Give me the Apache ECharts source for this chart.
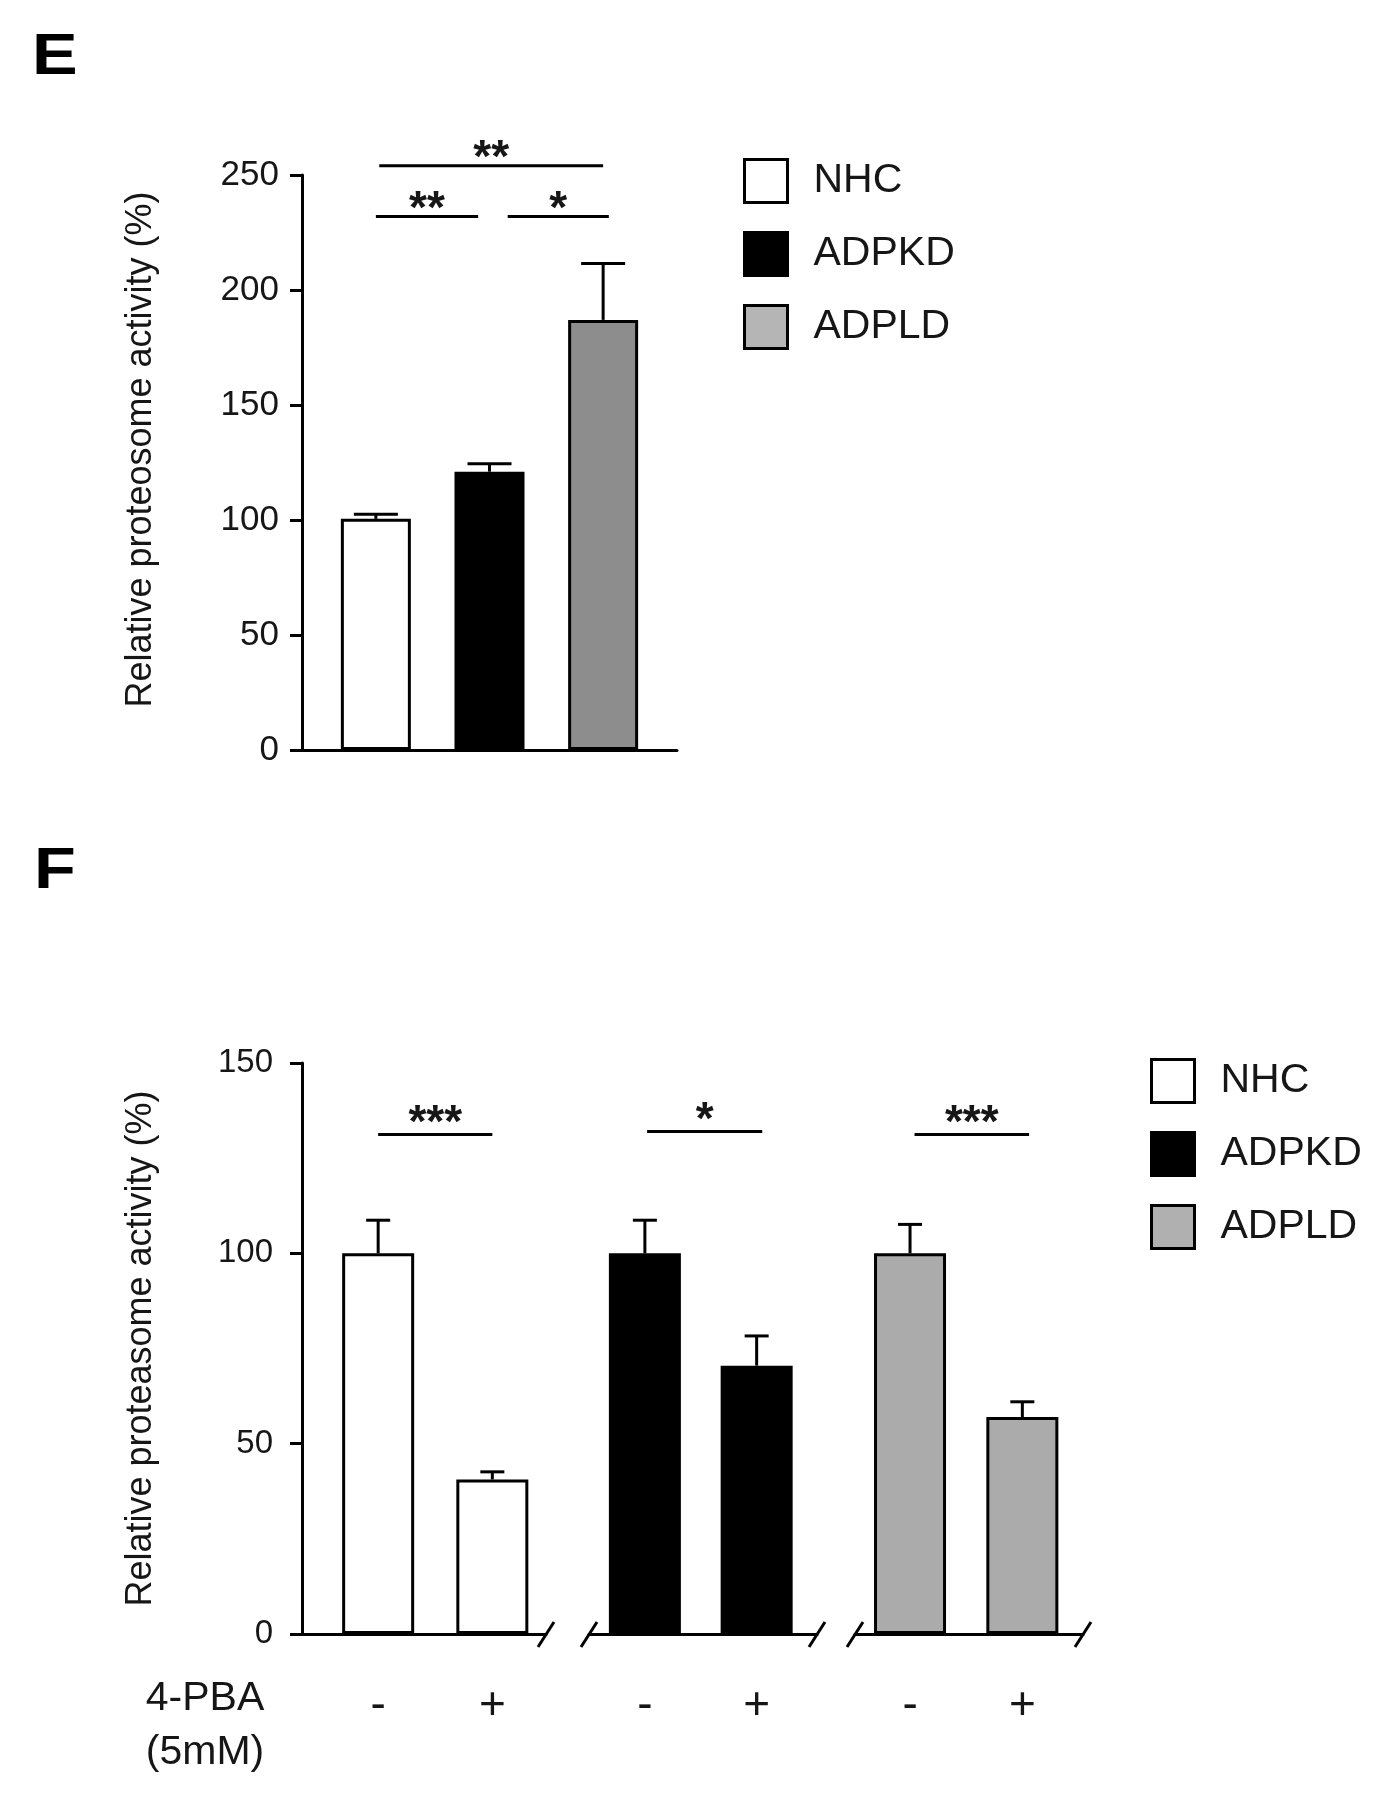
<!DOCTYPE html>
<html>
<head>
<meta charset="utf-8">
<script src="https://cdn.jsdelivr.net/npm/echarts@6/dist/echarts.min.js"></script>
<style>
  html, body { margin: 0; padding: 0; background: #fff; }
  #chart { width: 1392px; height: 1800px; }
</style>
</head>
<body>
<div id="chart"></div>
<script>
const groups = ['NHC', 'ADPKD', 'ADPLD'];

// panel E
const valuesE = [100.5, 121, 187];
const errorsE = [2, 3.5, 24.5];
const barColorsE = ['#ffffff', '#000000', '#8d8d8d'];
const legendColorsE = ['#ffffff', '#000000', '#b5b5b5'];
const sigE = [[0.03, 2, 254], [0, 0.9, 232], [1.16, 2.05, 232]];
const sigTextE = ['**', '**', '*'];

// panel F
const pbaLabels = ['-', '+'];
const nhcF = [100, 40.6];
const adpkdF = [100, 70.5];
const adpldF = [100, 57];
const nhcErrF = [8.7, 2];
const adpkdErrF = [8.7, 7.8];
const adpldErrF = [7.6, 4];
const barColorsF = ['#ffffff', '#000000', '#ababab'];
const legendColorsF = ['#ffffff', '#000000', '#b0b0b0'];
const sigF = [[0, 1, 131.2], [0.02, 1.05, 132], [0.04, 1.06, 131.2]];
const sigTextF = ['***', '*', '***'];

const FONT = '"Liberation Sans", Arial, Helvetica, sans-serif';
const INK = '#161616';
const LW = 3;

let chart = echarts.init(document.getElementById('chart'));

function errorRender(halfCap) {
    return function (params, api) {
        const x = api.value(0), v = api.value(1), e = api.value(2);
        const base = api.coord([x, v]);
        const top = api.coord([x, v + e]);
        const style = { stroke: '#000', lineWidth: LW };
        return {
            type: 'group',
            children: [
                { type: 'line', shape: { x1: base[0], y1: base[1], x2: top[0], y2: top[1] }, style: style },
                { type: 'line', shape: { x1: top[0] - halfCap, y1: top[1], x2: top[0] + halfCap, y2: top[1] }, style: style }
            ]
        };
    };
}

function sigRender(texts, lift) {
    return function (params, api) {
        const a = api.coord([api.value(0), api.value(2)]);
        const b = api.coord([api.value(1), api.value(2)]);
        return {
            type: 'group',
            children: [
                { type: 'line', shape: { x1: a[0], y1: a[1], x2: b[0], y2: b[1] }, style: { stroke: '#000', lineWidth: LW } },
                {
                    type: 'text',
                    style: {
                        text: texts[params.dataIndex], x: (a[0] + b[0]) / 2, y: a[1] - lift,
                        align: 'center', verticalAlign: 'middle',
                        font: 'bold 46px ' + FONT, fill: INK
                    }
                }
            ]
        };
    };
}

function yAxisBase(gridIndex, max, nameText, show) {
    return {
        type: 'value', gridIndex: gridIndex, min: 0, max: max, interval: 50,
        show: show,
        name: nameText, nameLocation: 'middle', nameGap: 143,
        nameTextStyle: { fontFamily: FONT, fontSize: 36, color: INK },
        axisLine: { show: true, onZero: false, lineStyle: { color: '#000', width: LW } },
        axisTick: { show: true, length: 12, lineStyle: { color: '#000', width: LW } },
        axisLabel: { fontFamily: FONT, color: INK },
        splitLine: { show: false }
    };
}

function xAxisSeg(gridIndex, min, max, labels) {
    return {
        type: 'value', gridIndex: gridIndex, min: min, max: max,
        axisLine: { show: true, onZero: false, lineStyle: { color: '#000', width: LW } },
        axisTick: { show: false },
        axisLabel: labels ? {
            customValues: [0, 1],
            formatter: function (v) { return pbaLabels[Math.round(v)]; },
            fontFamily: FONT, fontSize: 46, color: INK, margin: 49
        } : { show: false },
        splitLine: { show: false }
    };
}

const yE = yAxisBase(0, 250, 'Relative proteosome activity (%)', true);
yE.axisLabel.fontSize = 35;
yE.axisLabel.margin = 23;
yE.nameTextStyle.padding = [0, 0, 0, 26];

const yF = yAxisBase(1, 150, 'Relative proteasome activity (%)', true);
yF.axisLabel.fontSize = 33;
yF.axisLabel.margin = 29;

const segF = [
    { data: nhcF, err: nhcErrF },
    { data: adpkdF, err: adpkdErrF },
    { data: adpldF, err: adpldErrF }
];

const series = [];
groups.forEach(function (g, i) {
    series.push({
        name: g, type: 'bar', xAxisIndex: 0, yAxisIndex: 0,
        barWidth: 70, barGap: '-100%',
        itemStyle: { color: barColorsE[i], borderColor: '#000', borderWidth: LW },
        data: [[i, valuesE[i]]], z: 2
    });
});
series.push({
    type: 'custom', xAxisIndex: 0, yAxisIndex: 0, z: 3,
    renderItem: errorRender(22),
    data: valuesE.map(function (v, i) { return [i, v, errorsE[i]]; })
});
series.push({
    type: 'custom', xAxisIndex: 0, yAxisIndex: 0, z: 3,
    renderItem: sigRender(sigTextE, 6),
    data: sigE
});

segF.forEach(function (s, i) {
    series.push({
        name: groups[i], type: 'bar', xAxisIndex: i + 1, yAxisIndex: i + 1,
        barWidth: 72,
        itemStyle: { color: barColorsF[i], borderColor: '#000', borderWidth: LW },
        data: s.data.map(function (v, j) { return [j, v]; }), z: 2
    });
    series.push({
        type: 'custom', xAxisIndex: i + 1, yAxisIndex: i + 1, z: 3,
        renderItem: errorRender(12),
        data: s.data.map(function (v, j) { return [j, v, s.err[j]]; })
    });
    series.push({
        type: 'custom', xAxisIndex: i + 1, yAxisIndex: i + 1, z: 3,
        renderItem: sigRender([sigTextF[i]], 10),
        data: [sigF[i]]
    });
});

function legendFor(left, top, colors) {
    return {
        orient: 'vertical', left: left, top: top, padding: 0,
        itemWidth: 43, itemHeight: 43, itemGap: 27, icon: 'rect',
        selectedMode: false,
        textStyle: { fontFamily: FONT, fontSize: 41, color: INK, padding: [0, 0, 0, 21] },
        data: groups.map(function (g, i) {
            return { name: g, itemStyle: { color: colors[i], borderColor: '#000', borderWidth: LW } };
        })
    };
}

const option = {
    backgroundColor: '#fff',
    animation: false,
    grid: [
        { left: 302, top: 175, width: 375, height: 575 },
        { left: 302, top: 1063, width: 244, height: 571 },
        { left: 589, top: 1063, width: 228, height: 571 },
        { left: 855, top: 1063, width: 228, height: 571 }
    ],
    xAxis: [
        xAxisSeg(0, -0.65, 2.65, false),
        xAxisSeg(1, -0.667, 1.47, true),
        xAxisSeg(2, -0.5, 1.54, true),
        xAxisSeg(3, -0.49, 1.54, true)
    ],
    yAxis: [
        yE,
        yF,
        yAxisBase(2, 150, '', false),
        yAxisBase(3, 150, '', false)
    ],
    legend: [
        legendFor(743, 158, legendColorsE),
        legendFor(1150, 1058, legendColorsF)
    ],
    series: series
};

chart.setOption(option);

// panel letters, treatment label and axis break marks
const graphics = [
    { type: 'text', left: 32, top: 30, scaleX: 1.2, style: { text: 'E', font: 'bold 57px ' + FONT, fill: '#000' } },
    { type: 'text', left: 34, top: 844, scaleX: 1.2, style: { text: 'F', font: 'bold 57px ' + FONT, fill: '#000' } },
    { type: 'text', x: 205, y: 1699, style: { text: '4-PBA', font: '41px ' + FONT, fill: INK, align: 'center', verticalAlign: 'middle' } },
    { type: 'text', x: 205, y: 1753, style: { text: '(5mM)', font: '41px ' + FONT, fill: INK, align: 'center', verticalAlign: 'middle' } }
];
[1, 2, 3].forEach(function (i) {
    const ax = option.xAxis[i];
    const yPix = chart.convertToPixel({ yAxisIndex: i }, 0);
    const ends = i === 1 ? [ax.max] : [ax.min, ax.max];
    ends.forEach(function (v) {
        const xPix = chart.convertToPixel({ xAxisIndex: i }, v);
        graphics.push({
            type: 'line',
            shape: { x1: xPix - 8, y1: yPix + 13, x2: xPix + 8, y2: yPix - 12 },
            style: { stroke: '#000', lineWidth: LW }
        });
    });
});
chart.setOption({ graphic: graphics });

window.addEventListener('resize', function () {
    chart.resize();
});
</script>
</body>
</html>
